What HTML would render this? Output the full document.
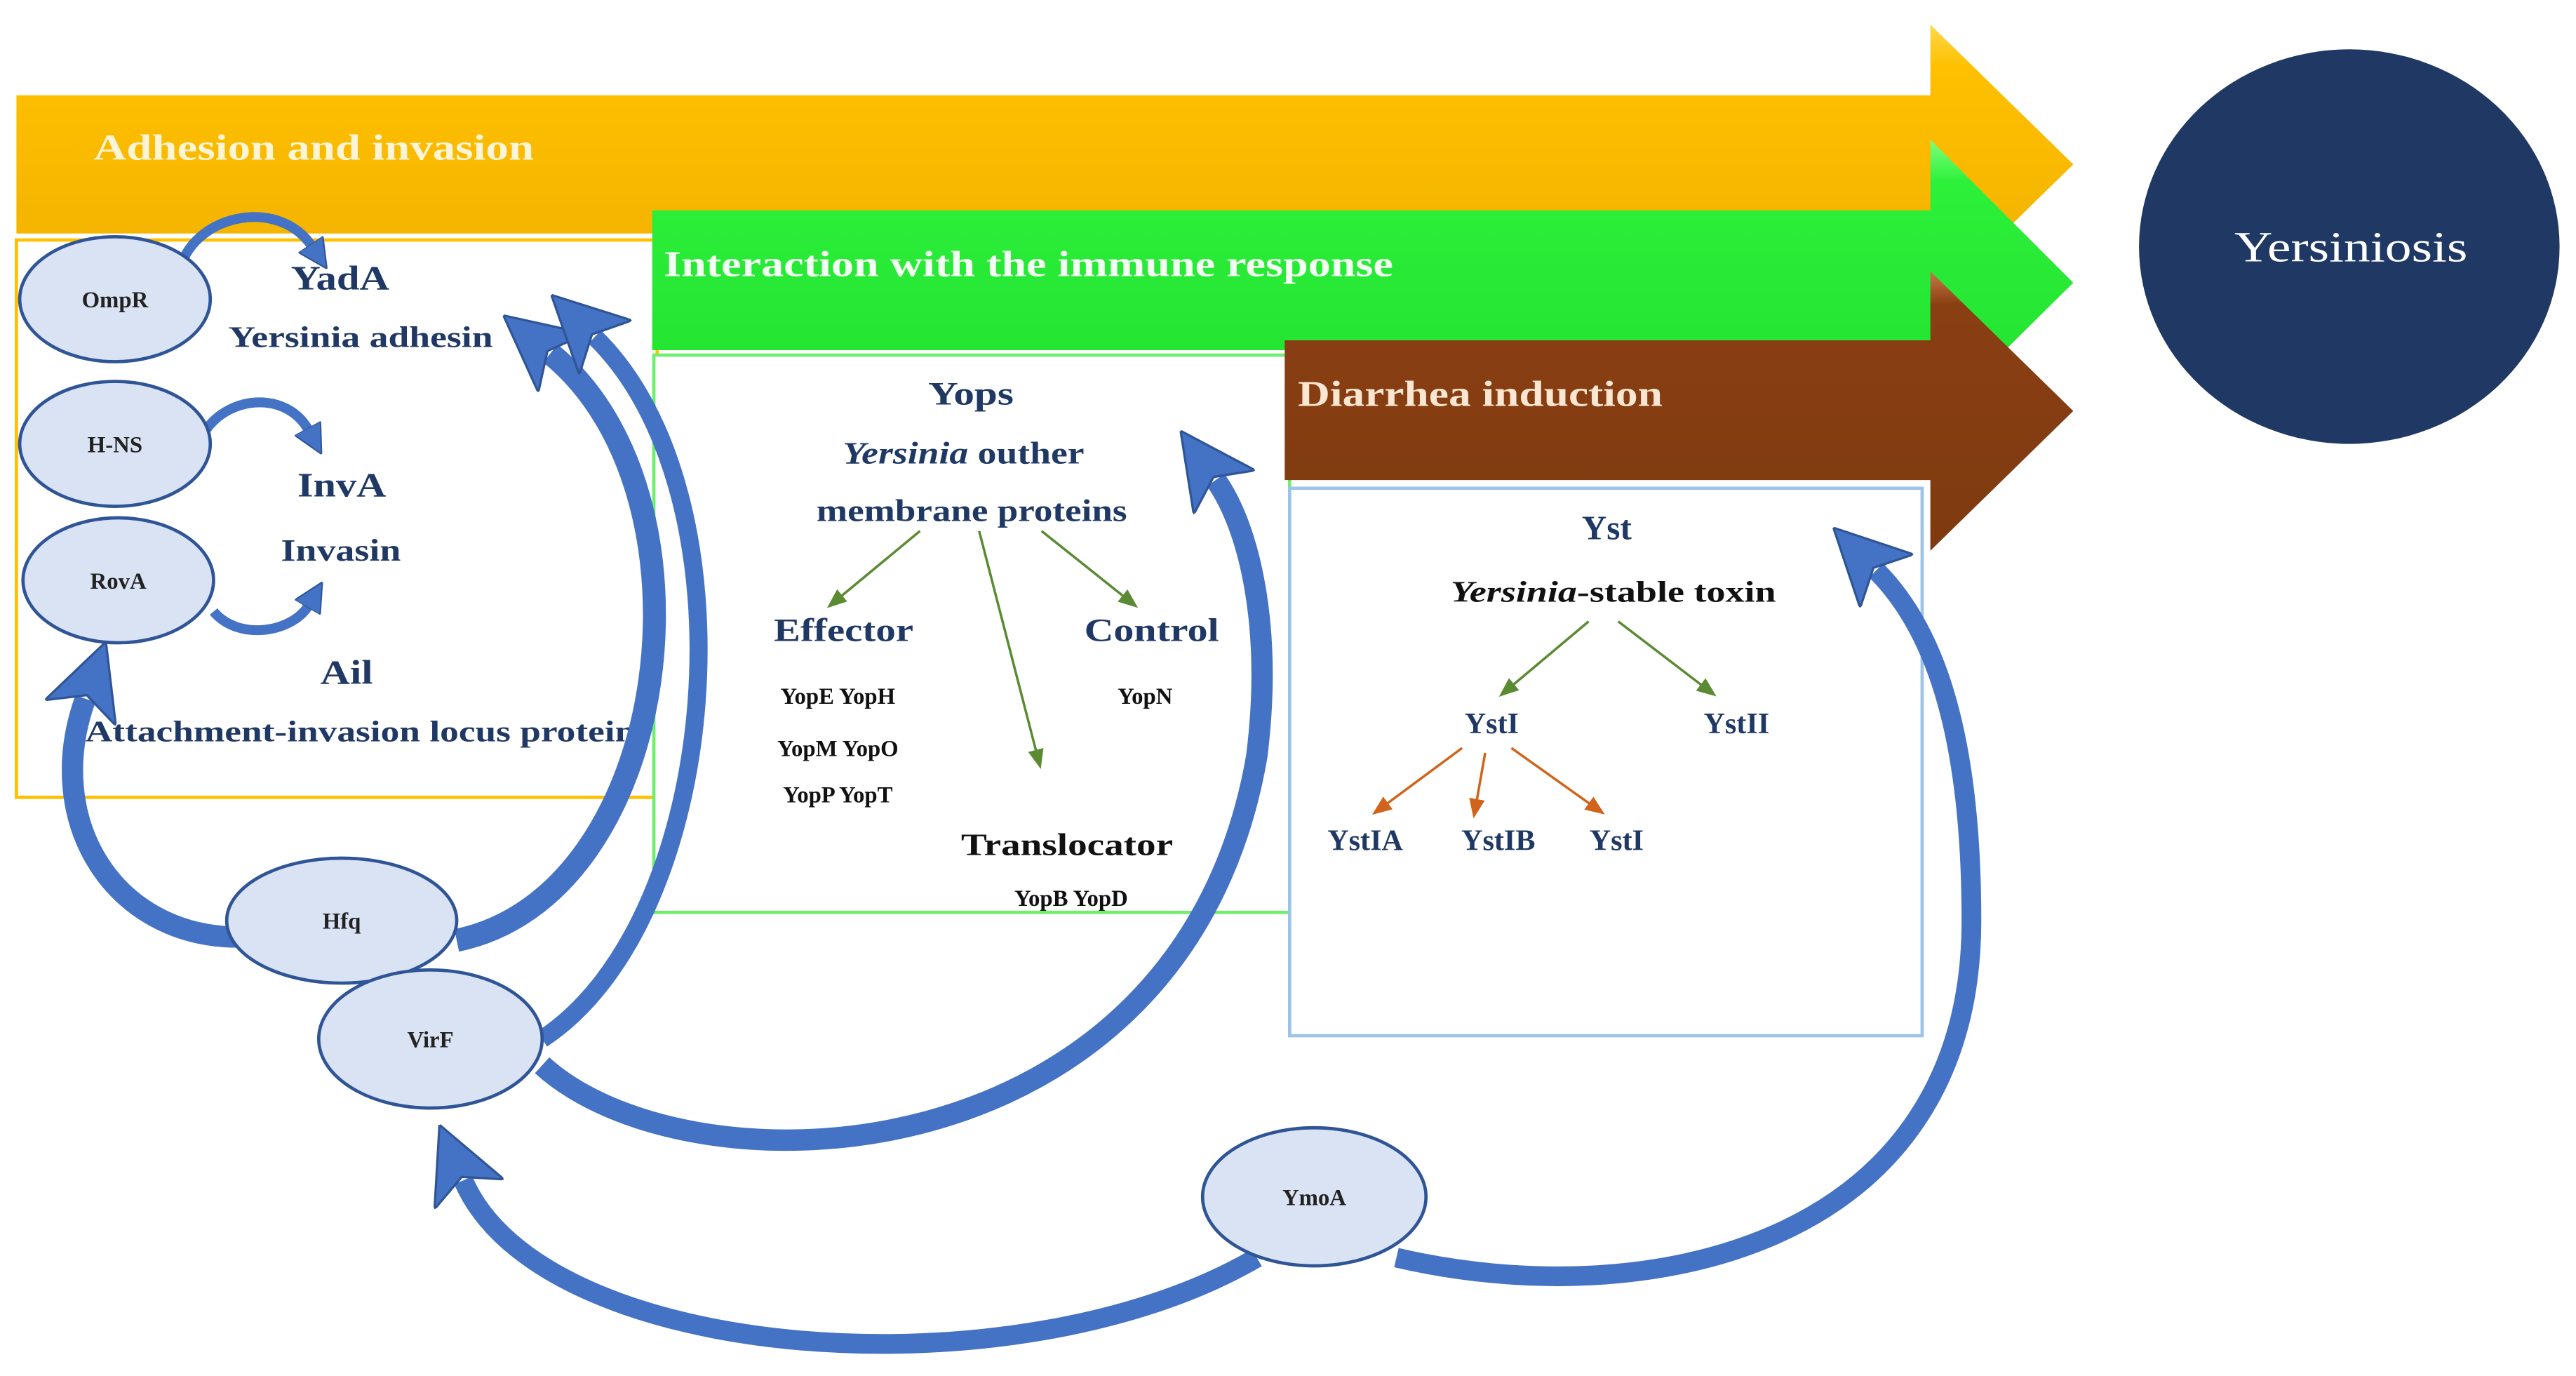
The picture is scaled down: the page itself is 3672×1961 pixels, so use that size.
<!DOCTYPE html>
<html><head><meta charset="utf-8"><style>
html,body{margin:0;padding:0;background:#fff;}
svg{display:block;}
text{font-family:"Liberation Serif",serif;font-weight:bold;}
</style></head><body>
<svg width="3672" height="1961" viewBox="0 0 1568 837" preserveAspectRatio="none" xmlns="http://www.w3.org/2000/svg">
<defs>
<linearGradient id="gy" x1="0" y1="0" x2="0" y2="1"><stop offset="0" stop-color="#ffd84a"/><stop offset="0.15" stop-color="#ffc000"/><stop offset="1" stop-color="#f0b000"/></linearGradient>
<linearGradient id="gg" x1="0" y1="0" x2="0" y2="1"><stop offset="0" stop-color="#7dff7d"/><stop offset="0.15" stop-color="#2cf03a"/><stop offset="1" stop-color="#22e030"/></linearGradient>
<linearGradient id="gb" x1="0" y1="0" x2="0" y2="1"><stop offset="0" stop-color="#c87a4a"/><stop offset="0.12" stop-color="#8a3f12"/><stop offset="1" stop-color="#7e3a10"/></linearGradient>
<marker id="bh" markerUnits="userSpaceOnUse" viewBox="0 0 20 20" refX="4" refY="10" markerWidth="46" markerHeight="46" orient="auto"><path d="M0,0 L20,10 L0,20 L5,10 z" fill="#4472c4" stroke="#2f5597" stroke-width="0.6"/></marker>
<marker id="sh" markerUnits="userSpaceOnUse" viewBox="0 0 20 20" refX="2" refY="10" markerWidth="18" markerHeight="18" orient="auto"><path d="M0,0 L20,10 L0,20 z" fill="#4472c4" stroke="#2f5597"/></marker>
<marker id="ga" markerUnits="userSpaceOnUse" viewBox="0 0 20 20" refX="10" refY="10" markerWidth="12" markerHeight="12" orient="auto"><path d="M0,2 L20,10 L0,18 z" fill="#5a8a32"/></marker>
<marker id="oa" markerUnits="userSpaceOnUse" viewBox="0 0 20 20" refX="10" refY="10" markerWidth="12" markerHeight="12" orient="auto"><path d="M0,2 L20,10 L0,18 z" fill="#d0641a"/></marker>
</defs>

<path d="M10,58 H1175 V15 L1262,100 L1175,185 V142 H10 z" fill="url(#gy)"/>
<rect x="10" y="146" width="390" height="339" fill="#fff" stroke="#ffc000" stroke-width="2"/>
<text x="57" y="97" font-size="22" fill="#fff5d6" textLength="268" lengthAdjust="spacingAndGlyphs">Adhesion and invasion</text>

<path d="M397,128 H1175 V85 L1262,172 L1175,258 V213 H397 z" fill="url(#gg)"/>
<rect x="398" y="216" width="387" height="339" fill="#fff" stroke="#6ef06e" stroke-width="2"/>
<text x="404" y="168" font-size="22" fill="#f4fff4" textLength="444" lengthAdjust="spacingAndGlyphs">Interaction with the immune response</text>

<path d="M782,207 H1175 V165 L1262,250 L1175,335 V292 H782 z" fill="url(#gb)"/>
<rect x="785" y="297" width="385" height="333" fill="#fff" stroke="#9dc3e6" stroke-width="2"/>
<text x="790" y="247" font-size="22" fill="#fbe6d2" textLength="222" lengthAdjust="spacingAndGlyphs">Diarrhea induction</text>

<ellipse cx="1430" cy="150" rx="128" ry="120" fill="#1f3864"/>
<text x="1360" y="159" font-size="26" fill="#fff" style="font-weight:normal" textLength="142" lengthAdjust="spacingAndGlyphs">Yersiniosis</text>

<g fill="#1f3864">
<text x="177" y="176" font-size="21" textLength="60" lengthAdjust="spacingAndGlyphs">YadA</text>
<text x="139" y="211" font-size="18" textLength="161" lengthAdjust="spacingAndGlyphs">Yersinia adhesin</text>
<text x="181" y="302" font-size="21" textLength="54" lengthAdjust="spacingAndGlyphs">InvA</text>
<text x="171" y="341" font-size="19" textLength="73" lengthAdjust="spacingAndGlyphs">Invasin</text>
<text x="195" y="416" font-size="21" textLength="32" lengthAdjust="spacingAndGlyphs">Ail</text>
<text x="52" y="451" font-size="18" textLength="335" lengthAdjust="spacingAndGlyphs">Attachment-invasion locus protein</text>
</g>

<g fill="#1f3864">
<text x="565" y="246" font-size="20" textLength="52" lengthAdjust="spacingAndGlyphs">Yops</text>
<text x="513" y="282" font-size="19" textLength="147" lengthAdjust="spacingAndGlyphs"><tspan font-style="italic">Yersinia</tspan> outher</text>
<text x="497" y="317" font-size="19" textLength="189" lengthAdjust="spacingAndGlyphs">membrane proteins</text>
<text x="471" y="390" font-size="20" textLength="85" lengthAdjust="spacingAndGlyphs">Effector</text>
<text x="660" y="390" font-size="20" textLength="82" lengthAdjust="spacingAndGlyphs">Control</text>
</g>
<g fill="#111" text-anchor="middle" font-size="14">
<text x="510" y="428">YopE YopH</text>
<text x="510" y="460">YopM YopO</text>
<text x="510" y="488">YopP YopT</text>
<text x="697" y="428">YopN</text>
<text x="585" y="520" font-size="19" text-anchor="start" textLength="129" lengthAdjust="spacingAndGlyphs">Translocator</text>
<text x="652" y="551">YopB YopD</text>
</g>
<g stroke="#5a8a32" stroke-width="1.5" fill="none">
<line x1="560" y1="323" x2="508" y2="366" marker-end="url(#ga)"/>
<line x1="634" y1="323" x2="688" y2="366" marker-end="url(#ga)"/>
<line x1="596" y1="323" x2="632" y2="462" marker-end="url(#ga)"/>
</g>

<g fill="#1f3864" text-anchor="middle">
<text x="978" y="328" font-size="21">Yst</text>
<text x="908" y="446" font-size="18">YstI</text>
<text x="1057" y="446" font-size="18">YstII</text>
<text x="831" y="517" font-size="18">YstIA</text>
<text x="912" y="517" font-size="18">YstIB</text>
<text x="984" y="517" font-size="18">YstI</text>
</g>
<text x="883" y="366" font-size="18" fill="#111" textLength="198" lengthAdjust="spacingAndGlyphs"><tspan font-style="italic">Yersinia</tspan>-stable toxin</text>
<g stroke="#5a8a32" stroke-width="1.5" fill="none">
<line x1="967" y1="378" x2="917" y2="420" marker-end="url(#ga)"/>
<line x1="985" y1="378" x2="1040" y2="420" marker-end="url(#ga)"/>
</g>
<g stroke="#d0641a" stroke-width="1.5" fill="none">
<line x1="890" y1="455" x2="840" y2="492" marker-end="url(#oa)"/>
<line x1="904" y1="458" x2="898" y2="492" marker-end="url(#oa)"/>
<line x1="920" y1="455" x2="972" y2="492" marker-end="url(#oa)"/>
</g>

<g fill="none" stroke="#4472c4" stroke-linecap="butt">
<path d="M145,570 C70,570 25,500 52,425" stroke-width="13" marker-end="url(#bh)"/>
<path d="M278,572 C410,545 440,300 335,215" stroke-width="14" marker-end="url(#bh)"/>
<path d="M330,632 C440,560 460,300 362,205" stroke-width="11" marker-end="url(#bh)"/>
<path d="M330,648 C420,730 720,720 765,460 C775,380 760,320 740,292" stroke-width="13" marker-end="url(#bh)"/>
<path d="M765,765 C620,850 330,830 282,718" stroke-width="12" marker-end="url(#bh)"/>
<path d="M850,765 C1000,800 1200,760 1200,560 C1200,440 1175,380 1142,347" stroke-width="12" marker-end="url(#bh)"/>
<path d="M110,162 C120,130 170,120 190,150" stroke-width="6" marker-end="url(#sh)"/>
<path d="M125,262 C140,240 175,238 188,262" stroke-width="6" marker-end="url(#sh)"/>
<path d="M130,372 C145,390 178,385 188,368" stroke-width="6" marker-end="url(#sh)"/>
</g>

<g fill="#dae3f3" stroke="#2f5597" stroke-width="2">
<ellipse cx="70" cy="182" rx="58" ry="38"/>
<ellipse cx="70" cy="270" rx="58" ry="38"/>
<ellipse cx="72" cy="353" rx="58" ry="38"/>
<ellipse cx="208" cy="560" rx="70" ry="38"/>
<ellipse cx="262" cy="632" rx="68" ry="42"/>
<ellipse cx="800" cy="728" rx="68" ry="42"/>
</g>
<g fill="#222" text-anchor="middle" font-size="14">
<text x="70" y="187">OmpR</text>
<text x="70" y="275">H-NS</text>
<text x="72" y="358">RovA</text>
<text x="208" y="565">Hfq</text>
<text x="262" y="637">VirF</text>
<text x="800" y="733">YmoA</text>
</g>
</svg>
</body></html>
